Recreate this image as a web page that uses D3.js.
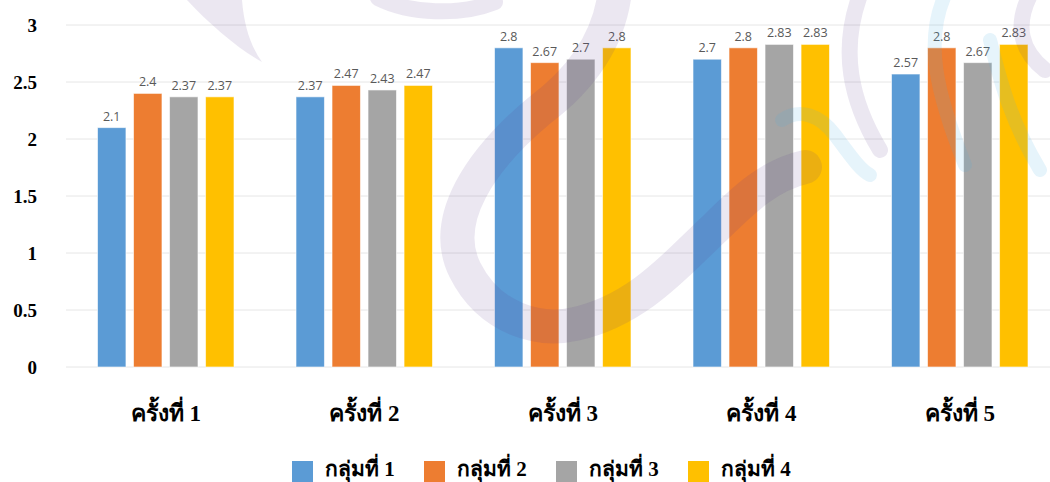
<!DOCTYPE html>
<html lang="th">
<head>
    <meta charset="UTF-8">
    <title>ผลการทดสอบ</title>
    <script type="text/javascript" src="https://d3js.org/d3.v7.min.js"></script>
    <style>
        body { margin: 0; background: #fff; }
    </style>
</head>
<body>

    <svg id="svg" width="1050" height="482"></svg>

    <script>
        const categories = ["ครั้งที่ 1", "ครั้งที่ 2", "ครั้งที่ 3", "ครั้งที่ 4", "ครั้งที่ 5"];
        const seriesNames = ["กลุ่มที่ 1", "กลุ่มที่ 2", "กลุ่มที่ 3", "กลุ่มที่ 4"];
        const group1 = [2.1, 2.37, 2.8, 2.7, 2.57];
        const group2 = [2.4, 2.47, 2.67, 2.8, 2.8];
        const group3 = [2.37, 2.43, 2.7, 2.83, 2.67];
        const group4 = [2.37, 2.47, 2.8, 2.83, 2.83];
        const yTicks = [0, 0.5, 1, 1.5, 2, 2.5, 3];
        const colors = ["#5B9BD5", "#ED7D31", "#A5A5A5", "#FFC000"];

        const seriesValues = [group1, group2, group3, group4];

        let svg = d3.select('svg');
        let width = +svg.attr('width');

        const serifFont = '"Liberation Serif", "Times New Roman", serif';

        let x = d3.scaleBand()
            .domain(categories)
            .range([66.5, 1059])
            .paddingInner(0)
            .paddingOuter(0);

        let xInner = d3.scaleBand()
            .domain(seriesNames)
            .range([31, 167.5])
            .paddingInner(0.21);

        let y = d3.scaleLinear()
            .domain([0, 3])
            .range([367, 25]);

        // gridlines
        svg.append('g')
            .selectAll('line')
            .data(yTicks)
            .enter()
            .append('line')
            .attr('x1', 66)
            .attr('x2', width)
            .attr('y1', d => y(d))
            .attr('y2', d => y(d))
            .attr('stroke', '#e6e6e6')
            .attr('stroke-width', 1);

        // y axis labels
        let yAxis = svg.append('g')
            .attr('transform', 'translate(37,0)')
            .call(d3.axisLeft(y).tickValues(yTicks).tickSize(0).tickPadding(0).tickFormat(d3.format('')));
        yAxis.select('.domain').remove();
        yAxis.selectAll('text')
            .attr('fill', '#000')
            .style('font-family', serifFont)
            .style('font-weight', 'bold')
            .style('font-size', '19px');

        // bars
        let groups = svg.append('g')
            .selectAll('g')
            .data(categories)
            .enter()
            .append('g')
            .attr('transform', d => `translate(${x(d)},0)`);

        seriesNames.forEach((name, si) => {
            groups.append('rect')
                .attr('x', xInner(name))
                .attr('width', xInner.bandwidth())
                .attr('y', (d, i) => y(seriesValues[si][i]))
                .attr('height', (d, i) => y(0) - y(seriesValues[si][i]))
                .attr('fill', colors[si])
                .attr('stroke', '#ffffff')
                .attr('stroke-opacity', 0.6)
                .attr('stroke-width', 1);

            groups.append('text')
                .attr('x', xInner(name) + xInner.bandwidth() / 2)
                .attr('y', (d, i) => y(seriesValues[si][i]) - 7)
                .attr('text-anchor', 'middle')
                .attr('fill', '#595959')
                .style('font-family', '"Open Sans", "Liberation Sans", sans-serif')
                .style('font-size', '12.5px')
                .text((d, i) => seriesValues[si][i]);
        });

        // faint watermark swirls laid over the plot
        const purpleMarks = [
            'M 615,-10 C 610,40 580,80 540,110 C 480,160 440,220 465,270 C 490,320 540,332 575,324 C 640,310 680,260 715,228 C 745,198 770,175 805,167',
            'M 378,-2 C 410,14 460,16 495,2',
            'M 860,-5 C 840,50 850,100 880,150',
            'M 1030,-5 C 1015,25 1020,50 1045,70'
        ];
        const blueMarks = [
            'M 782,120 C 800,108 820,115 835,135 C 850,155 860,170 870,175',
            'M 945,-5 C 925,40 935,90 965,165',
            'M 990,40 C 1000,80 1010,120 1040,170'
        ];
        let marks = svg.append('g').attr('pointer-events', 'none');
        marks.append('path')
            .attr('d', 'M 187,0 L 242,0 C 244,25 250,45 262,62 C 240,50 210,25 187,0 Z')
            .attr('fill', '#5a3d8c')
            .attr('fill-opacity', 0.12);
        marks.selectAll('path.p')
            .data(purpleMarks)
            .enter()
            .append('path')
            .attr('d', d => d)
            .attr('fill', 'none')
            .attr('stroke', '#5a3d8c')
            .attr('stroke-opacity', 0.12)
            .attr('stroke-width', (d, i) => i === 0 ? 34 : 16)
            .attr('stroke-linecap', 'round');
        marks.selectAll('path.b')
            .data(blueMarks)
            .enter()
            .append('path')
            .attr('d', d => d)
            .attr('fill', 'none')
            .attr('stroke', '#4fb4e0')
            .attr('stroke-opacity', 0.14)
            .attr('stroke-width', 14)
            .attr('stroke-linecap', 'round');

        // category labels
        let xAxis = svg.append('g')
            .attr('transform', `translate(0,${y(0)})`)
            .call(d3.axisBottom(x).tickSize(0).tickPadding(0));
        xAxis.select('.domain').remove();
        xAxis.selectAll('text')
            .attr('dy', 0)
            .attr('y', 54)
            .attr('fill', '#000')
            .style('font-family', serifFont)
            .style('font-weight', 'bold')
            .style('font-size', '23px');

        // legend
        let legend = svg.append('g')
            .selectAll('g')
            .data(seriesNames)
            .enter()
            .append('g')
            .attr('transform', (d, i) => `translate(${292 + i * 132},461)`);

        legend.append('rect')
            .attr('width', 21)
            .attr('height', 21)
            .attr('fill', (d, i) => colors[i]);

        legend.append('text')
            .attr('x', 33)
            .attr('y', 15)
            .attr('fill', '#000')
            .style('font-family', serifFont)
            .style('font-weight', 'bold')
            .style('font-size', '21px')
            .text(d => d);
    </script>

</body>
</html>
